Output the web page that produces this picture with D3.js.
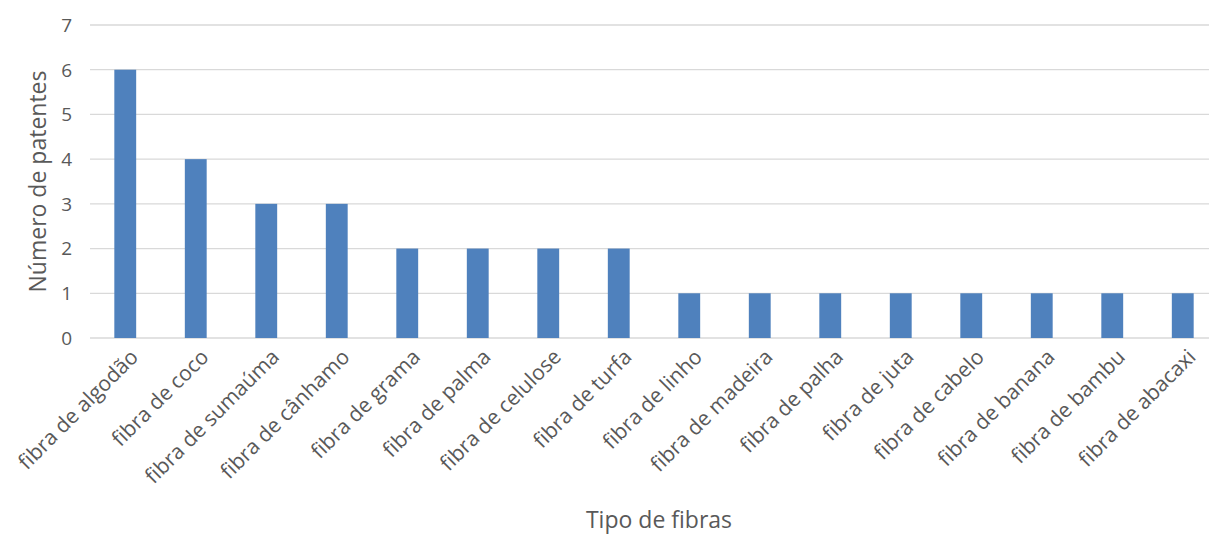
<!DOCTYPE html>
<html lang="pt">
<head>
<meta charset="utf-8">
<title>Número de patentes por tipo de fibras</title>
<script src="https://d3js.org/d3.v7.min.js"></script>
<style>
  body { margin: 0; background: #fff; }
  svg text { font-family: "Open Sans", sans-serif; fill: #595959; }
</style>
</head>
<body>
<div id="chart"></div>
<script>
const categories = [
  "fibra de algodão", "fibra de coco", "fibra de sumaúma", "fibra de cânhamo",
  "fibra de grama", "fibra de palma", "fibra de celulose", "fibra de turfa",
  "fibra de linho", "fibra de madeira", "fibra de palha", "fibra de juta",
  "fibra de cabelo", "fibra de banana", "fibra de bambu", "fibra de abacaxi"
];
const patentes = [6, 4, 3, 3, 2, 2, 2, 2, 1, 1, 1, 1, 1, 1, 1, 1];
const yTicks = [0, 1, 2, 3, 4, 5, 6, 7];

const width = 1209, height = 536;
const margin = {top: 25, right: -9, bottom: 198, left: 90};

const svg = d3.select("#chart").append("svg")
    .attr("width", width)
    .attr("height", height);

const x = d3.scaleBand()
    .domain(categories)
    .range([margin.left, width - margin.right])
    .paddingInner(0.69)
    .paddingOuter(0.345);

const y = d3.scaleLinear()
    .domain([0, 7])
    .range([height - margin.bottom, margin.top]);

// grid lines
svg.append("g")
    .selectAll("line")
    .data(yTicks)
    .join("line")
      .attr("x1", margin.left)
      .attr("x2", width - margin.right)
      .attr("y1", d => y(d))
      .attr("y2", d => y(d))
      .attr("stroke", "#d9d9d9")
      .attr("stroke-width", 1.3);

// y tick labels
svg.append("g")
    .selectAll("text")
    .data(yTicks)
    .join("text")
      .attr("x", 72)
      .attr("y", d => y(d))
      .attr("dy", "0.36em")
      .attr("text-anchor", "end")
      .style("font-size", "19px")
      .text(d => d);

// bars
svg.append("g")
    .selectAll("rect")
    .data(patentes)
    .join("rect")
      .attr("x", (d, i) => x(categories[i]))
      .attr("y", d => y(d))
      .attr("width", x.bandwidth())
      .attr("height", d => y(0) - y(d))
      .attr("fill", "#4f81bd");

// category labels
svg.append("g")
    .selectAll("text")
    .data(categories)
    .join("text")
      .attr("transform", d => `translate(${x(d) + x.bandwidth() / 2 + 9},${y(0) + 15}) rotate(-45)`)
      .attr("text-anchor", "end")
      .attr("dy", "0.35em")
      .style("font-size", "21px")
      .text(d => d);

// axis titles
svg.append("text")
    .attr("x", 659)
    .attr("y", 528)
    .attr("text-anchor", "middle")
    .style("font-size", "23px")
    .text("Tipo de fibras");

svg.append("text")
    .attr("transform", `translate(46,${(y(0) + y(7)) / 2}) rotate(-90)`)
    .attr("text-anchor", "middle")
    .style("font-size", "23px")
    .text("Número de patentes");
</script>
</body>
</html>
